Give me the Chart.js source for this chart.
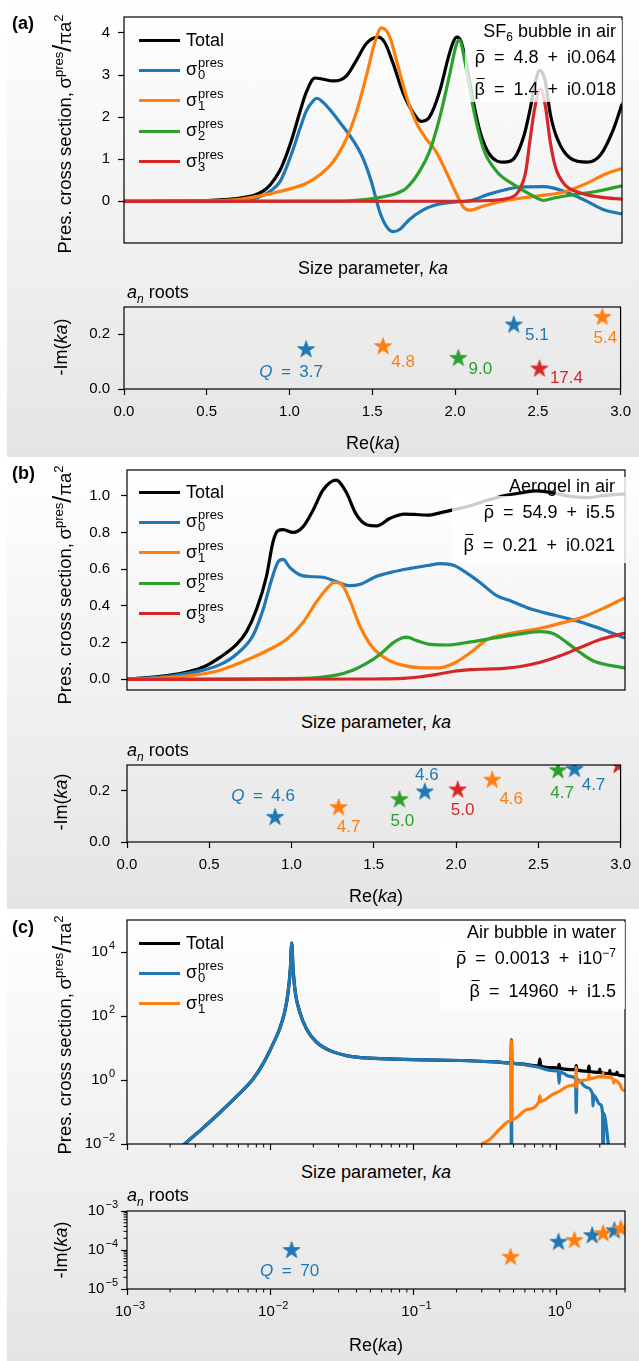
<!DOCTYPE html>
<html><head><meta charset="utf-8">
<script src="https://cdn.jsdelivr.net/npm/chart.js@4.4.1/dist/chart.umd.min.js"></script>
<style>
html,body{margin:0;padding:0;background:#fff}
body{position:relative;width:639px;height:1361px;overflow:hidden;font-family:"Liberation Sans",Arial,sans-serif;color:#000}
.panel{position:absolute;left:7px;width:632px;background:linear-gradient(to bottom,#ffffff,#e4e4e4)}
canvas{position:absolute;left:0}
.t{position:absolute;white-space:nowrap;line-height:1}
.c{transform:translate(-50%,-50%)}
.r{transform:translate(-100%,-50%)}
.l{transform:translateY(-50%)}
.ct{transform:translateX(-50%)}
.rot{transform:translate(-50%,-50%) rotate(-90deg)}
.box{position:absolute;background:rgba(255,255,255,0.8)}
.leg{position:absolute;left:139px;width:41px;height:3px}
.ss{display:inline-flex;flex-direction:column;font-size:13px;line-height:12px;vertical-align:middle;margin-left:1px;position:relative;top:-1px}
.sub{font-size:12px;position:relative;top:5px}
.ov{position:relative;display:inline-block}
.ov::after{content:'';position:absolute;left:18%;right:8%;height:1.3px;background:#000}
.ovr::after{top:2px}
.ovb::after{top:-2px}
.lt sup{font-size:11px;vertical-align:0;position:relative;top:-7px;margin-left:1px}
</style></head><body>
<div class="panel" style="top:0;height:457px"></div>
<div class="panel" style="top:457px;height:452px"></div>
<div class="panel" style="top:909px;height:452px"></div>
<script>
// ---------------- DATA ----------------
// (a) SF6 bubble in air
const aTotX = [0,0.3,0.5,0.6,0.7,0.78,0.84,0.88,0.94,0.98,1.02,1.06,1.10,1.15,1.20,1.26,1.30,1.34,1.40,1.46,1.53,1.57,1.62,1.68,1.74,1.79,1.84,1.90,1.956,1.985,2.005,2.03,2.065,2.105,2.145,2.205,2.29,2.35,2.41,2.447,2.477,2.505,2.535,2.57,2.61,2.69,2.79,2.87,2.95,3.0];
const aTotY = [0,0.005,0.02,0.04,0.08,0.14,0.25,0.39,0.74,1.12,1.59,2.13,2.61,2.93,2.9,2.86,2.88,2.98,3.35,3.75,3.9,3.78,3.29,2.59,2.12,1.9,2.0,2.59,3.45,3.8,3.9,3.8,3.22,2.35,1.65,1.1,0.93,1.02,1.57,2.2,2.82,3.11,2.9,2.04,1.49,1.02,0.93,1.1,1.73,2.31];
const aS0X = [0,0.5,0.7,0.8,0.88,0.94,0.98,1.02,1.06,1.10,1.14,1.16,1.22,1.30,1.38,1.44,1.49,1.54,1.58,1.62,1.66,1.72,1.80,1.88,1.98,2.09,2.19,2.29,2.39,2.53,2.65,2.79,2.89,3.0];
const aS0Y = [0,0.002,0.02,0.08,0.24,0.47,0.82,1.25,1.73,2.16,2.39,2.45,2.27,1.88,1.45,1.02,0.47,-0.24,-0.59,-0.72,-0.67,-0.43,-0.21,-0.08,-0.02,0.02,0.16,0.27,0.34,0.35,0.24,0.0,-0.2,-0.3];
const aS1X = [0,0.5,0.7,0.9,1.02,1.10,1.18,1.26,1.34,1.40,1.46,1.51,1.55,1.60,1.64,1.70,1.76,1.82,1.88,1.94,2.005,2.045,2.085,2.145,2.22,2.35,2.5,2.65,2.8,2.9,3.0];
const aS1Y = [0,0.01,0.05,0.2,0.32,0.43,0.63,0.94,1.49,2.12,2.98,3.76,4.12,3.92,3.37,2.51,1.88,1.49,1.18,0.71,0.16,-0.14,-0.21,-0.14,-0.05,0.05,0.13,0.22,0.45,0.65,0.78];
const aS2X = [0,1.2,1.38,1.52,1.62,1.70,1.78,1.84,1.90,1.96,2.005,2.02,2.055,2.105,2.165,2.245,2.35,2.45,2.53,2.59,2.71,2.85,3.0];
const aS2Y = [0,0.005,0.02,0.08,0.16,0.31,0.71,1.18,1.96,2.98,3.76,3.83,3.29,2.2,1.25,0.71,0.39,0.16,0.02,0.08,0.16,0.24,0.37];
const aS3X = [0,2.0,2.2,2.3,2.37,2.42,2.447,2.477,2.51,2.538,2.568,2.6,2.65,2.75,2.87,3.0];
const aS3Y = [0,0.002,0.02,0.06,0.2,0.7,1.49,2.27,2.67,2.27,1.41,0.8,0.42,0.2,0.1,0.05];
const aRootRe = [1.10,1.565,2.02,2.355,2.51,2.89];
const aRootIm = [0.146,0.157,0.114,0.236,0.075,0.264];
const aRootMode = [0,1,2,0,3,1];
const aRootQ = ['<i>Q</i>&ensp;=&ensp;3.7','4.8','9.0','5.1','17.4','5.4'];

// (b) Aerogel in air
const bTotX = [0,0.26,0.36,0.46,0.56,0.66,0.72,0.78,0.84,0.88,0.91,0.94,1.0,1.06,1.12,1.18,1.26,1.32,1.38,1.445,1.505,1.585,1.67,1.73,1.81,1.89,1.97,2.07,2.17,2.27,2.37,2.47,2.57,2.67,2.77,2.87,3.0];
const bTotY = [0,0.023,0.04,0.067,0.12,0.19,0.26,0.38,0.56,0.75,0.81,0.815,0.8,0.83,0.92,1.03,1.085,1.02,0.9,0.842,0.836,0.877,0.9,0.898,0.894,0.908,0.924,0.947,0.975,1.0,1.015,1.026,1.015,0.996,0.99,1.0,1.01];
const bS0X = [0,0.26,0.46,0.56,0.66,0.76,0.82,0.87,0.91,0.94,0.98,1.04,1.1,1.18,1.26,1.34,1.4,1.5,1.605,1.705,1.81,1.89,1.97,2.05,2.13,2.23,2.31,2.43,2.57,2.73,2.87,3.0];
const bS0Y = [0,0.018,0.05,0.08,0.137,0.24,0.38,0.54,0.64,0.653,0.61,0.57,0.56,0.556,0.533,0.51,0.516,0.56,0.586,0.604,0.62,0.63,0.62,0.577,0.525,0.454,0.428,0.384,0.35,0.313,0.27,0.225];
const bS1X = [0,0.36,0.56,0.76,0.86,0.96,1.06,1.14,1.2,1.25,1.29,1.34,1.4,1.48,1.565,1.665,1.77,1.87,1.97,2.07,2.17,2.27,2.37,2.49,2.61,2.73,2.87,3.0];
const bS1Y = [0,0.018,0.05,0.12,0.164,0.217,0.31,0.42,0.49,0.528,0.52,0.437,0.296,0.173,0.11,0.076,0.063,0.062,0.088,0.146,0.217,0.243,0.26,0.278,0.305,0.334,0.387,0.445];
const bS2X = [0,1.06,1.26,1.36,1.44,1.525,1.605,1.655,1.685,1.745,1.826,1.93,2.07,2.21,2.37,2.49,2.57,2.65,2.73,2.81,2.91,3.0];
const bS2Y = [0,0.005,0.023,0.05,0.085,0.137,0.2,0.225,0.23,0.211,0.19,0.187,0.204,0.225,0.248,0.26,0.248,0.2,0.146,0.1,0.076,0.063];
const bS3X = [0,1.5,1.665,1.77,1.87,1.97,2.07,2.17,2.27,2.37,2.49,2.61,2.73,2.85,3.0];
const bS3Y = [0,0.002,0.005,0.014,0.028,0.044,0.053,0.056,0.06,0.07,0.093,0.128,0.173,0.217,0.252];
const bRootRe = [0.90,1.286,1.656,1.81,2.01,2.22,2.62,2.72,2.99];
const bRootIm = [0.098,0.136,0.167,0.197,0.205,0.243,0.28,0.285,0.30];
const bRootMode = [0,1,2,0,3,1,2,0,3];
const bRootQ = ['<i>Q</i>&ensp;=&ensp;4.6','4.7','5.0','4.6','5.0','4.6','4.7','4.7',''];

// (c) Air bubble in water
const cTotX = [0.00233,0.00253,0.0034,0.00444,0.0058,0.00759,0.0089,0.01047,0.01164,0.01262,0.0133,0.01383,0.01413,0.01443,0.015,0.01607,0.01788,0.021,0.026,0.034,0.0495,0.0846,0.1445,0.247,0.4,0.47,0.48,0.4835,0.487,0.552,0.722,0.75,0.762,0.775,0.944,1.025,1.04,1.055,1.355,1.37,1.385,1.66,1.68,1.70,1.98,2.0,2.02,2.33,2.35,2.37,2.62,2.64,2.66,2.86,3.0];
const cTotY = [0.0071,0.01,0.032,0.095,0.3,1.07,3.2,13.5,40,135,510,3100,19000,3100,510,135,40,15.4,8.4,5.8,4.8,4.4,4.2,4.0,3.6,3.4,3.4,18,3.4,3.2,2.75,2.72,4.5,2.7,2.45,2.35,3.1,2.3,2.1,2.8,2.08,1.87,2.7,1.85,1.74,2.2,1.72,1.58,2.0,1.56,1.5,1.75,1.48,1.37,1.34];
const cS0X = [0.00233,0.00253,0.0034,0.00444,0.0058,0.00759,0.0089,0.01047,0.01164,0.01262,0.0133,0.01383,0.01413,0.01443,0.015,0.01607,0.01788,0.021,0.026,0.034,0.0495,0.0846,0.1445,0.247,0.4,0.47,0.48,0.4835,0.487,0.552,0.722,0.944,1.025,1.04,1.055,1.233,1.355,1.37,1.385,1.61,1.78,1.795,1.81,2.0,2.09,2.11,2.13,2.29,2.37];
const cS0Y = [0.0071,0.01,0.032,0.095,0.3,1.07,3.2,13.5,40,135,510,3100,19000,3100,510,135,40,15.4,8.4,5.8,4.8,4.4,4.2,4.0,3.6,3.4,3.4,0.0001,3.35,3.2,2.6,1.97,1.88,0.8,1.8,1.3,1.1,0.095,1.05,0.59,0.37,0.155,0.34,0.175,0.1,0.0001,0.09,0.011,0.003];
const cS1X = [0.298,0.341,0.40,0.47,0.48,0.4835,0.487,0.615,0.75,0.762,0.775,0.944,1.04,1.233,1.36,1.368,1.376,1.385,1.61,1.67,1.68,1.69,2.0,2.1,2.11,2.12,2.35,2.48,2.5,2.52,2.75,2.86,3.0];
const cS1Y = [0.01,0.0139,0.029,0.052,0.055,17,0.057,0.117,0.205,0.32,0.215,0.36,0.44,0.66,0.78,2.5,0.6,0.8,1.0,1.08,1.5,1.08,1.27,1.25,1.6,1.25,1.21,1.05,0.8,1.0,0.75,0.52,0.46];
const cRootRe = [0.0141,0.477,1.03,1.33,1.77,2.11,2.53,2.8];
const cRootIm = [1.0e-4,6.7e-5,1.63e-4,1.8e-4,2.4e-4,2.7e-4,3.2e-4,3.6e-4];
const cRootMode = [0,1,0,1,0,1,0,1];
const cRootQ = ['<i>Q</i>&ensp;=&ensp;70','','','','','','',''];

// tick values
const logMajX = [1e-3,1e-2,1e-1,1];
const logMajYc = [1e-2,1,1e2,1e4];
const logMajYr = [1e-5,1e-4,1e-3];

// ---------------- STYLE ----------------
const COLORS = ['#1f77b4','#ff7f0e','#2ca02c','#d62728'];
const aLabOff = [[-15,22],[20,15],[22,10],[23,10],[27,8],[3,20]];
const bLabOff = [[-12,-22],[10,19],[3,21],[2,-17],[5,20],[19,18],[4,22],[19,15],[0,0]];
const cLabOff = [[-2,20],[0,0],[0,0],[0,0],[0,0],[0,0],[0,0],[0,0]];
const FONT = '"Liberation Sans", "DejaVu Sans", Arial, sans-serif';
Chart.defaults.font.family = FONT;
Chart.defaults.font.size = 15;
Chart.defaults.color = '#000';

function pts(xs, ys){ return xs.map((x,i)=>({x:x, y:ys[i]})); }
function minorVals(lo, hi){ const out=[]; for(let d=lo; d<=hi; d++){ for(let k=2;k<=9;k++){ out.push(k*Math.pow(10,d)); } } return out; }

function makeStar(color){
  const c=document.createElement('canvas'); c.width=20; c.height=20;
  const g=c.getContext('2d'); const R=8.8, r=R*0.382;
  g.beginPath();
  for(let i=0;i<10;i++){ const ang=-Math.PI/2+i*Math.PI/5; const rad=(i%2===0)?R:r; const px=10+rad*Math.cos(ang), py=10.5+rad*Math.sin(ang); if(i===0) g.moveTo(px,py); else g.lineTo(px,py); }
  g.closePath(); g.fillStyle=color; g.fill(); g.lineWidth=1; g.strokeStyle=color; g.stroke();
  return c;
}
const STARS = COLORS.map(makeStar);

const framePlugin = {id:'frame', afterDraw(chart){ const a=chart.chartArea, ctx=chart.ctx; ctx.save(); ctx.strokeStyle='#000'; ctx.lineWidth=1.2; ctx.strokeRect(a.left, a.top, a.right-a.left, a.bottom-a.top); ctx.restore(); }};
const minorPlugin = {id:'minorTicks', afterDraw(chart, args, opts){
  const ctx=chart.ctx, a=chart.chartArea; ctx.save(); ctx.strokeStyle='#000'; ctx.lineWidth=1;
  (opts.x||[]).forEach(v=>{ const p=chart.scales.x.getPixelForValue(v); if(p<a.left-0.5||p>a.right+0.5) return; ctx.beginPath(); ctx.moveTo(p,a.bottom); ctx.lineTo(p,a.bottom+3.5); ctx.stroke(); });
  (opts.y||[]).forEach(v=>{ const p=chart.scales.y.getPixelForValue(v); if(p<a.top-0.5||p>a.bottom+0.5) return; ctx.beginPath(); ctx.moveTo(a.left,p); ctx.lineTo(a.left-3.5,p); ctx.stroke(); });
  ctx.restore(); }};

function mkCanvas(top, h){ const c=document.createElement('canvas'); c.width=639; c.height=h; c.style.top=top+'px'; document.body.appendChild(c); return c; }
function grid(){ return {drawOnChartArea:false, tickLength:6, tickWidth:1.2, tickColor:'#000'}; }
function linScale(min,max,step,show,pad,fmt,fitKey,fitVal){
  return {type:'linear', min:min, max:max, border:{display:false}, grid:grid(),
    ticks:{stepSize:step, display:show, padding:pad, includeBounds:false, autoSkip:false, maxRotation:0, callback:fmt},
    afterFit:s=>{ s[fitKey]=fitVal; }};
}
function logScale(min,max,majors,fitKey,fitVal){
  return {type:'logarithmic', min:min, max:max, border:{display:false}, grid:grid(),
    afterBuildTicks:s=>{ s.ticks = majors.map(v=>({value:v, major:true})); },
    ticks:{display:false, autoSkip:false, maxRotation:0},
    afterFit:s=>{ s[fitKey]=fitVal; }};
}
function lineDs(xs, ys, color, order){
  return {data:pts(xs,ys), borderColor:color, borderWidth:3.2, pointRadius:0, fill:false, cubicInterpolationMode:'monotone', order:order};
}
function baseOpts(padTop, padRight, scales, minorOpts){
  return {responsive:false, animation:false, events:[],
    layout:{padding:{top:padTop, right:padRight, left:0, bottom:0}},
    plugins:{legend:{display:false}, tooltip:{enabled:false}, minorTicks:minorOpts||{}},
    scales:scales};
}

// ---------- text helpers ----------
function T(html, x, y, cls, style){ const d=document.createElement('div'); d.className='t '+(cls||''); d.innerHTML=html; d.style.left=x+'px'; d.style.top=y+'px'; if(style) d.style.cssText+=style; document.body.appendChild(d); return d; }
function box(x,y,w,h){ const d=document.createElement('div'); d.className='box'; d.style.left=x+'px'; d.style.top=y+'px'; d.style.width=w+'px'; d.style.height=h+'px'; document.body.appendChild(d); }
function sigma(n){ return 'σ<span class="ss"><span>pres</span><span>'+n+'</span></span>'; }
function legend(y0, entries){
  entries.forEach((e,i)=>{ const y=y0+i*30.4; const ln=document.createElement('div'); ln.className='leg'; ln.style.top=(y-1.5)+'px'; ln.style.background=e[1]; document.body.appendChild(ln); T(e[0], 186, y, 'l', 'font-size:18px;'); });
}
function rootLabels(chart, top, re, im, mode, labels, offs){
  labels.forEach((lab,i)=>{ if(!lab) return; const px=chart.scales.x.getPixelForValue(re[i]); const py=chart.scales.y.getPixelForValue(im[i]); T(lab, px+offs[i][0], top+py+offs[i][1], 'c', 'font-size:17px;color:'+COLORS[mode[i]]+';'); });
}
function logLabel(v){ return '10<sup>'+String(Math.round(Math.log10(v))).replace('-','−')+'</sup>'; }
function logTickLabels(chart, top, xVals, yVals, xPad, yPad){
  const a=chart.chartArea;
  (xVals||[]).forEach(v=>{ const px=chart.scales.x.getPixelForValue(v); T(logLabel(v), px+3, top+a.bottom+6+xPad, 'lt ct', 'font-size:15px;'); });
  (yVals||[]).forEach(v=>{ const py=chart.scales.y.getPixelForValue(v); T(logLabel(v), a.left-6-yPad, top+py-2, 'lt r', 'font-size:15px;'); });
}
function rootsChart(top, h, padTop, padRight, xAxis, yAxis, re, im, mode, minorOpts){
  const ds = {data:pts(re,im), showLine:false, pointRadius:8, pointStyle:ctx=>STARS[mode[ctx.dataIndex]], clip:0};
  return new Chart(mkCanvas(top,h), {type:'scatter', data:{datasets:[ds]}, options:baseOpts(padTop,padRight,{x:xAxis,y:yAxis},minorOpts), plugins:[framePlugin,minorPlugin]});
}

// ---------------- PANEL (a) ----------------
new Chart(mkCanvas(0,260), {type:'line', data:{datasets:[
    lineDs(aTotX,aTotY,'#000',5), lineDs(aS0X,aS0Y,COLORS[0],4), lineDs(aS1X,aS1Y,COLORS[1],3), lineDs(aS2X,aS2Y,COLORS[2],2), lineDs(aS3X,aS3Y,COLORS[3],1)]},
  options:baseOpts(17,17,{x:linScale(0,3,0.5,false,0,null,'height',15), y:linScale(-0.99,4.38,1,true,8,v=>String(v),'width',124)}),
  plugins:[framePlugin]});
const rA = rootsChart(290,140,15,17, linScale(0,3,0.5,true,8,v=>v.toFixed(1),'height',41), linScale(0,0.3,0.2,true,8,v=>v.toFixed(1),'width',124), aRootRe, aRootIm, aRootMode);
rootLabels(rA, 290, aRootRe, aRootIm, aRootMode, aRootQ, aLabOff);

// ---------------- PANEL (b) ----------------
new Chart(mkCanvas(450,260), {type:'line', data:{datasets:[
    lineDs(bTotX,bTotY,'#000',5), lineDs(bS0X,bS0Y,COLORS[0],4), lineDs(bS1X,bS1Y,COLORS[1],3), lineDs(bS2X,bS2Y,COLORS[2],2), lineDs(bS3X,bS3Y,COLORS[3],1)]},
  options:baseOpts(20,14,{x:linScale(0,3,0.5,false,0,null,'height',16), y:linScale(-0.058,1.14,0.2,true,11,v=>v.toFixed(1),'width',127)}),
  plugins:[framePlugin]});
const rB = rootsChart(745,140,18,14, linScale(0,3,0.5,true,8,v=>v.toFixed(1),'height',43), linScale(0,0.3,0.2,true,11,v=>v.toFixed(1),'width',127), bRootRe, bRootIm, bRootMode);
rootLabels(rB, 745, bRootRe, bRootIm, bRootMode, bRootQ, bLabOff);

// ---------------- PANEL (c) ----------------
const mC = new Chart(mkCanvas(900,260), {type:'line', data:{datasets:[
    lineDs(cTotX,cTotY,'#000',3), lineDs(cS0X,cS0Y,COLORS[0],2), lineDs(cS1X,cS1Y,COLORS[1],1)]},
  options:baseOpts(20,14,{x:logScale(1e-3,3,logMajX,'height',16), y:logScale(1e-2,1e5,logMajYc,'width',127)}, {x:minorVals(-3,0)}),
  plugins:[framePlugin,minorPlugin]});
logTickLabels(mC, 900, [], logMajYc, 0, 6);
const rC = rootsChart(1195,145,16,14, logScale(1e-3,3,logMajX,'height',51), logScale(1e-5,1e-3,logMajYr,'width',127), cRootRe, cRootIm, cRootMode, {x:minorVals(-3,0), y:minorVals(-5,-4)});
logTickLabels(rC, 1195, logMajX, logMajYr, 8, 3);
rootLabels(rC, 1195, cRootRe, cRootIm, cRootMode, cRootQ, cLabOff);

// ---------------- TEXT ----------------
const yMain = 'Pres. cross section,&thinsp;σ<sup style="font-size:13px">pres</sup><span style="font-size:25px;font-weight:300">/</span>πa<sup style="font-size:13px">2</sup>';
[[23,134],[473,585],[927,1035]].forEach((p,i)=>{
  T(['(a)','(b)','(c)'][i], 12, p[0], 'l', 'font-size:18px;font-weight:bold;');
  T(yMain, 62, p[1], 'rot', 'font-size:18.5px;');
});
[[347,373],[802,376],[1250,376]].forEach(p=>{ T('-Im(<i>ka</i>)', 61, p[0], 'rot', 'font-size:18px;'); });
[[373,268],[376,722],[376,1172]].forEach(p=>{ T('Size parameter, <i>ka</i>', p[0], p[1], 'c', 'font-size:18px;'); });
[[373,443],[376,896],[376,1345]].forEach(p=>{ T('Re(<i>ka</i>)', p[0], p[1], 'c', 'font-size:18px;'); });
[292,750,1195].forEach(y=>{ T('<i>a<span class="sub"><i>n</i></span></i> roots', 127, y, 'l', 'font-size:18px;'); });

legend(40, [['Total','#000'],[sigma(0),COLORS[0]],[sigma(1),COLORS[1]],[sigma(2),COLORS[2]],[sigma(3),COLORS[3]]]);
legend(492, [['Total','#000'],[sigma(0),COLORS[0]],[sigma(1),COLORS[1]],[sigma(2),COLORS[2]],[sigma(3),COLORS[3]]]);
legend(943, [['Total','#000'],[sigma(0),COLORS[0]],[sigma(1),COLORS[1]]]);

const SP='&ensp;';
const RHO='<span class="ov ovr">ρ</span>', BETA='<span class="ov ovb">β</span>';
box(474,20,148,24); box(465,44,157,58);
T('SF<span style="font-size:12px;position:relative;top:4px">6</span> bubble in air', 616, 31, 'r', 'font-size:18px;');
T(RHO+SP+'='+SP+'4.8'+SP+'+'+SP+'i0.064', 616, 57, 'r', 'font-size:18px;');
T(BETA+SP+'='+SP+'1.4'+SP+'+'+SP+'i0.018', 616, 89, 'r', 'font-size:18px;');

box(555,477,71,19); box(452,496,174,67);
T('Aerogel in air', 615, 486, 'r', 'font-size:18px;');
T(RHO+SP+'='+SP+'54.9'+SP+'+'+SP+'i5.5', 615, 512, 'r', 'font-size:18px;');
T(BETA+SP+'='+SP+'0.21'+SP+'+'+SP+'i0.021', 615, 545, 'r', 'font-size:18px;');

box(470,922,155,21); box(440,943,185,66);
T('Air bubble in water', 616, 932, 'r', 'font-size:18px;');
T(RHO+SP+'='+SP+'0.0013'+SP+'+'+SP+'i10<sup style="font-size:12px">−7</sup>', 616, 957, 'r', 'font-size:18px;');
T(BETA+SP+'='+SP+'14960'+SP+'+'+SP+'i1.5', 616, 991, 'r', 'font-size:18px;');
</script>
</body></html>
